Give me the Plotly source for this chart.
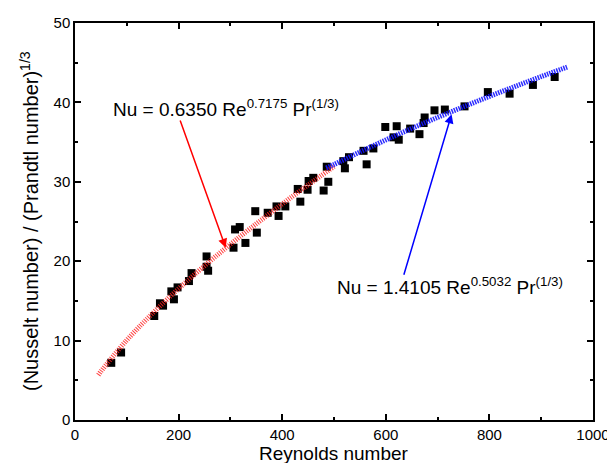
import plotly.graph_objects as go

# Measured data points (Reynolds number, Nu / Pr^(1/3))
re_data = [70, 89, 153, 164, 170, 186, 191, 198, 220, 225, 254, 254, 257,
           306, 309, 318, 329, 348, 351, 372, 389, 393, 406, 430, 435, 449,
           451, 460, 480, 486, 489, 518, 521, 529, 557, 563, 576, 599, 615,
           621, 625, 647, 665, 673, 675, 694, 714, 752, 797, 839, 884, 926]
nu_data = [7.2, 8.5, 13.1, 14.7, 14.4, 16.2, 15.2, 16.7, 17.5, 18.5, 20.6, 19.3, 18.8,
           21.7, 24.0, 24.3, 22.3, 26.3, 23.6, 26.1, 26.9, 25.7, 26.9, 29.1, 27.5, 29.0,
           30.1, 30.5, 28.9, 31.9, 30.0, 32.6, 31.7, 33.1, 33.9, 32.2, 34.2, 36.9, 35.6,
           37.0, 35.3, 36.7, 36.0, 37.4, 38.1, 39.0, 39.1, 39.5, 41.3, 41.1, 42.2, 43.2]

# Fitted curve values
re_fit_low = [45, 50, 100, 150, 200, 250, 300, 350, 400, 450, 500]
nu_fit_low = [5.67, 6.12, 10.06, 13.45, 16.54, 19.41, 22.13, 24.71, 27.20, 29.60, 31.92]
re_fit_high = [485, 500, 550, 600, 650, 700, 750, 800, 850, 900, 950]
nu_fit_high = [31.74, 32.18, 33.76, 35.27, 36.72, 38.11, 39.45, 40.76, 42.02, 43.25, 44.45]

x_ticks = [0, 200, 400, 600, 800, 1000]
y_ticks = [0, 10, 20, 30, 40, 50]

x_title = "Reynolds number"
y_title = "(Nusselt number) / (Prandtl number)<sup>1/3</sup>"
label_low = "Nu = 0.6350 Re<sup>0.7175</sup> Pr<sup>(1/3)</sup>"
label_high = "Nu = 1.4105 Re<sup>0.5032</sup> Pr<sup>(1/3)</sup>"

FONT = "Liberation Sans, Arial, sans-serif"

fig = go.Figure()
fig.add_trace(go.Scatter(x=re_data, y=nu_data, mode="markers",
                         marker=dict(symbol="square", size=8, color="black"),
                         showlegend=False))
fig.add_trace(go.Scatter(x=re_fit_low, y=nu_fit_low, mode="lines", line_shape="spline",
                         line=dict(color="rgba(255,30,30,0.85)", width=5, dash="1px,1.3px"),
                         showlegend=False))
fig.add_trace(go.Scatter(x=re_fit_high, y=nu_fit_high, mode="lines", line_shape="spline",
                         line=dict(color="rgba(20,20,255,0.9)", width=5, dash="1.5px,1px"),
                         showlegend=False))

axis_common = dict(showline=True, linecolor="black", linewidth=1.5, mirror="ticks",
                   ticks="inside", ticklen=6, tickwidth=1.5, tickcolor="black",
                   showgrid=False, zeroline=False, automargin=False,
                   tickfont=dict(family=FONT, size=15, color="black"))

fig.update_xaxes(range=[0, 1000], tickvals=x_ticks, ticktext=[str(v) for v in x_ticks],
                 minor=dict(ticks="inside", ticklen=3, tickwidth=1.5, dtick=100, tickcolor="black"),
                 **axis_common)
fig.update_yaxes(range=[0, 50], tickvals=y_ticks, ticktext=[str(v) for v in y_ticks],
                 minor=dict(ticks="inside", ticklen=3, tickwidth=1.5, dtick=5, tickcolor="black"),
                 **axis_common)

# pixel geometry of the plot area
L, R, T, B = 67, 585, 15, 412
PW, PH = R - L, B - T

# axis titles
fig.add_annotation(x=0.5, y=-(445 - B) / PH, xref="paper", yref="paper", text=x_title,
                   showarrow=False, xanchor="center", yanchor="middle", borderpad=0,
                   font=dict(family=FONT, size=19, color="black"))
fig.add_annotation(x=-(L - 21.5) / PW, y=0.5, xref="paper", yref="paper", text=y_title,
                   showarrow=False, xanchor="center", yanchor="middle", textangle=-90,
                   borderpad=0, font=dict(family=FONT, size=20, color="black"))

# equation labels
XS, YS = PW / 1000, PH / 50
fig.add_annotation(x=(102.7 - L) / XS, y=(B - 99.5) / YS, xref="x", yref="y", text=label_low,
                   showarrow=False, xanchor="left", yanchor="middle",
                   font=dict(family=FONT, size=19, color="black"))
fig.add_annotation(x=(326.7 - L) / XS, y=(B - 278) / YS, xref="x", yref="y", text=label_high,
                   showarrow=False, xanchor="left", yanchor="middle",
                   font=dict(family=FONT, size=19, color="black"))

# arrows
fig.add_annotation(x=291, y=21.7, ax=202, ay=37.9, xref="x", yref="y", axref="x", ayref="y",
                   text="", showarrow=True, arrowhead=2, arrowsize=1.2, arrowwidth=1.5,
                   arrowcolor="red")
fig.add_annotation(x=727, y=38.5, ax=634, ay=18.1, xref="x", yref="y", axref="x", ayref="y",
                   text="", showarrow=True, arrowhead=2, arrowsize=1.2, arrowwidth=1.5,
                   arrowcolor="blue")

fig.update_layout(width=615, height=463, margin=dict(l=L, r=615 - R, t=T, b=463 - B),
                  plot_bgcolor="white", paper_bgcolor="white",
                  font=dict(family=FONT, color="black"))

fig.write_html("out.html")
